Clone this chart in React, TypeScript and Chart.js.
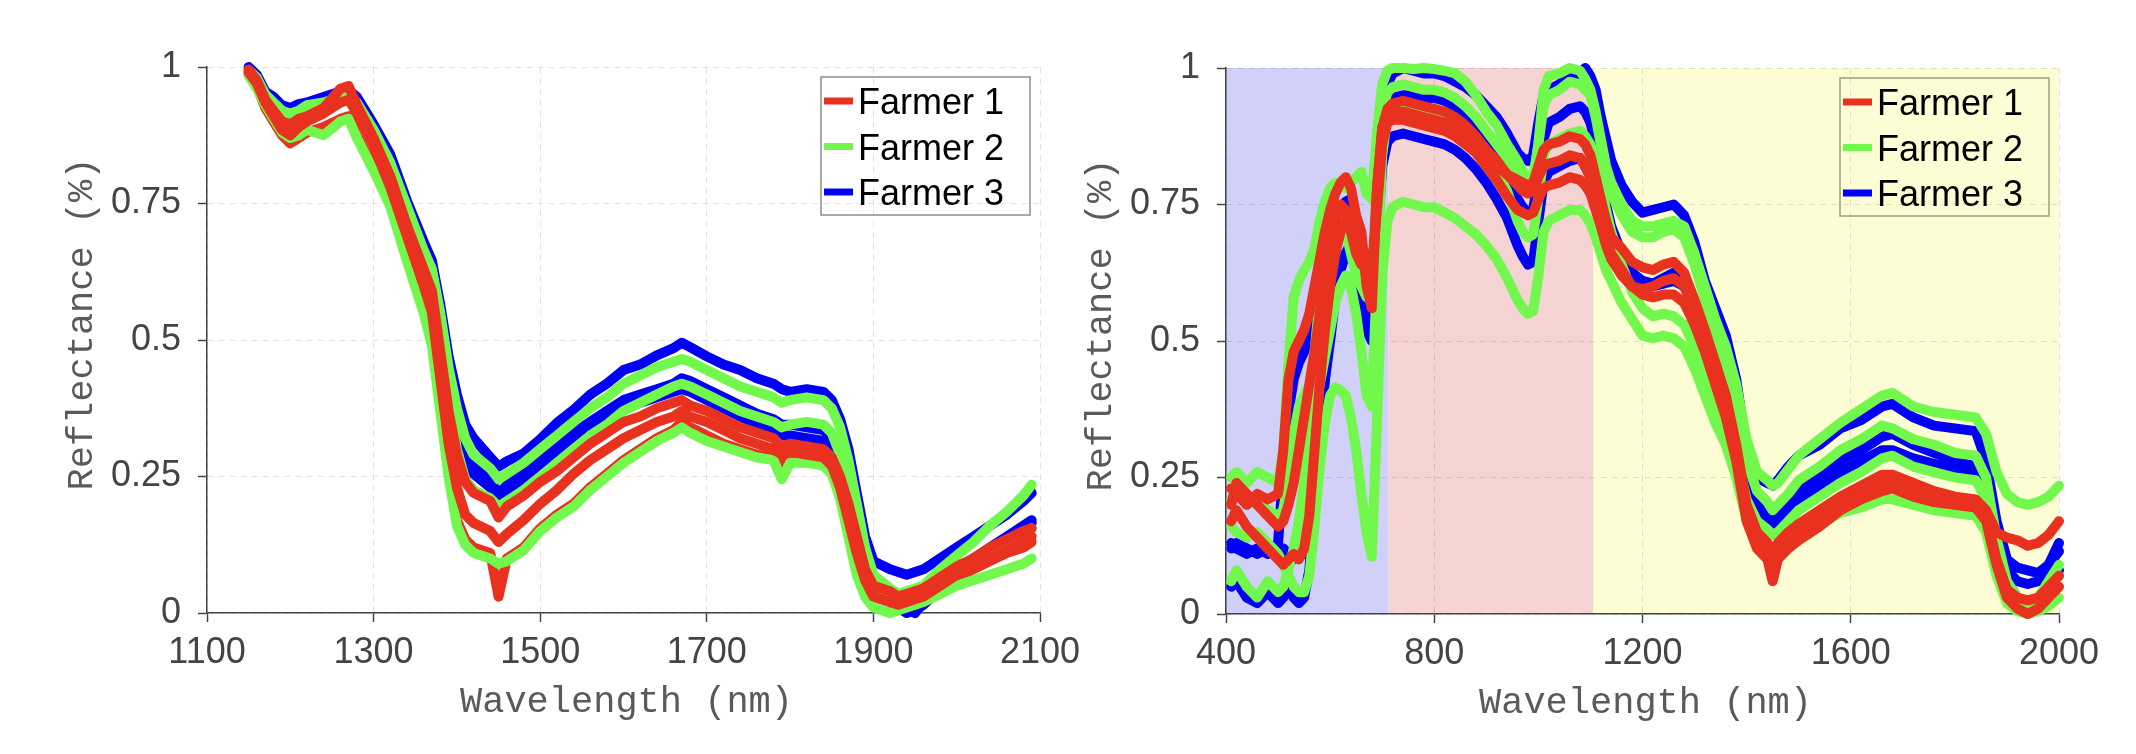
import { useEffect, useRef } from 'react';
import { Chart, registerables } from 'chart.js';

Chart.register(...registerables);

const farmerLabels = ['Farmer 1', 'Farmer 2', 'Farmer 3'];
const farmerColors = ['#e8321f', '#72f84c', '#0000f5'];
const reflectanceTicks = [0, 0.25, 0.5, 0.75, 1];
const xAxisTitle = 'Wavelength (nm)';
const yAxisTitle = 'Reflectance (%)';

// ---------- Left panel: SWIR spectra, 1100–2100 nm ----------
const swirTicks = [1100, 1300, 1500, 1700, 1900, 2100];
const swirWavelengths = [
  1150, 1160, 1170, 1180, 1190, 1200, 1210, 1220, 1240, 1260,
  1270, 1280, 1300, 1320, 1340, 1360, 1370, 1380, 1390, 1400,
  1410, 1420, 1440, 1450, 1460, 1480, 1500, 1520, 1540, 1560,
  1580, 1600, 1620, 1640, 1660, 1670, 1680, 1700, 1720, 1740,
  1760, 1780, 1790, 1800, 1820, 1840, 1850, 1860, 1870, 1880,
  1890, 1900, 1920, 1930, 1940, 1950, 1960, 1980, 2000, 2020,
  2040, 2060, 2080, 2090,
];
const swirFarmer1A = [
  0.995, 0.975, 0.94, 0.92, 0.9, 0.895, 0.905, 0.91, 0.925, 0.96,
  0.965, 0.93, 0.87, 0.8, 0.71, 0.63, 0.59, 0.48, 0.37, 0.29,
  0.24, 0.22, 0.205, 0.175, 0.195, 0.215, 0.24, 0.26, 0.285, 0.31,
  0.33, 0.35, 0.36, 0.375, 0.385, 0.39, 0.38, 0.37, 0.355, 0.34,
  0.33, 0.32, 0.305, 0.31, 0.305, 0.3, 0.285, 0.25, 0.2, 0.14,
  0.08, 0.05, 0.04, 0.03, 0.035, 0.04, 0.045, 0.065, 0.085, 0.1,
  0.12, 0.135, 0.15, 0.155,
];
const swirFarmer1B = [
  0.99, 0.97, 0.935, 0.91, 0.885, 0.875, 0.89, 0.9, 0.915, 0.935,
  0.94, 0.915, 0.855, 0.78, 0.69, 0.6, 0.55, 0.43, 0.31, 0.23,
  0.18, 0.165, 0.15, 0.13, 0.145, 0.17, 0.2, 0.225, 0.255, 0.28,
  0.3, 0.32, 0.335, 0.35, 0.36, 0.37, 0.36, 0.35, 0.335, 0.32,
  0.31, 0.3, 0.29, 0.295, 0.29, 0.285, 0.27, 0.23, 0.17, 0.11,
  0.06, 0.03, 0.02, 0.015, 0.02, 0.025, 0.03, 0.05, 0.07, 0.085,
  0.1, 0.115, 0.13, 0.14,
];
const swirFarmer1C = [
  0.985, 0.965, 0.925, 0.9, 0.875, 0.86, 0.87, 0.88, 0.89, 0.905,
  0.91, 0.875, 0.815, 0.75, 0.65, 0.56, 0.5, 0.38, 0.26, 0.17,
  0.135, 0.12, 0.11, 0.03, 0.1, 0.12, 0.155, 0.18, 0.2, 0.23,
  0.255, 0.28, 0.3, 0.32, 0.335, 0.35, 0.34, 0.325, 0.31, 0.3,
  0.29, 0.285, 0.27, 0.28, 0.28, 0.275, 0.26, 0.22, 0.16, 0.1,
  0.05, 0.03, 0.02, 0.02, 0.025, 0.03, 0.035, 0.05, 0.065, 0.08,
  0.095, 0.11, 0.12, 0.13,
];
const swirFarmer2A = [
  0.995, 0.98, 0.95, 0.935, 0.92, 0.915, 0.92, 0.93, 0.935, 0.945,
  0.95, 0.935, 0.885, 0.825, 0.745, 0.665, 0.63, 0.55, 0.45, 0.375,
  0.32, 0.29, 0.265, 0.245, 0.255, 0.275, 0.3, 0.325, 0.35, 0.375,
  0.395, 0.42, 0.435, 0.45, 0.46, 0.465, 0.46, 0.445, 0.43, 0.415,
  0.405, 0.395, 0.385, 0.39, 0.395, 0.39, 0.375, 0.34, 0.28, 0.2,
  0.12, 0.07, 0.045, 0.035, 0.04, 0.045, 0.05, 0.08, 0.105, 0.13,
  0.16, 0.185, 0.215, 0.235,
];
const swirFarmer2B = [
  0.99, 0.97, 0.94, 0.925, 0.905, 0.9, 0.905, 0.915, 0.92, 0.935,
  0.94, 0.925, 0.87, 0.8, 0.72, 0.635, 0.6, 0.5, 0.39, 0.3,
  0.245, 0.225, 0.21, 0.195, 0.205, 0.225, 0.25, 0.275, 0.3, 0.325,
  0.345, 0.37, 0.385, 0.4, 0.415, 0.42, 0.415, 0.4, 0.385, 0.37,
  0.36, 0.35, 0.34, 0.345, 0.35, 0.345, 0.33, 0.29, 0.23, 0.16,
  0.09, 0.04, 0.02, 0.015, 0.02, 0.025, 0.035, 0.055, 0.075, 0.095,
  0.115, 0.13, 0.145, 0.155,
];
const swirFarmer2C = [
  0.985, 0.96, 0.93, 0.905, 0.88, 0.87, 0.875, 0.885, 0.875, 0.9,
  0.905, 0.87, 0.81, 0.745, 0.645, 0.55, 0.49, 0.37, 0.25, 0.16,
  0.125, 0.11, 0.1, 0.09, 0.095, 0.115, 0.15, 0.175, 0.195, 0.225,
  0.25, 0.275, 0.295, 0.315, 0.33, 0.34, 0.33, 0.315, 0.305, 0.295,
  0.285, 0.28, 0.245, 0.275, 0.275, 0.27, 0.255, 0.21, 0.14, 0.07,
  0.03, 0.01, 0.0, 0.005, 0.01, 0.015, 0.02, 0.035, 0.05, 0.06,
  0.07, 0.08, 0.09, 0.1,
];
const swirFarmer3A = [
  1.0, 0.985, 0.955, 0.945, 0.93, 0.925, 0.932, 0.935, 0.945, 0.955,
  0.958, 0.945, 0.895, 0.84, 0.755, 0.68, 0.645, 0.565, 0.47, 0.4,
  0.345, 0.32, 0.285, 0.268, 0.278, 0.292, 0.318, 0.348, 0.372, 0.4,
  0.42, 0.445, 0.455, 0.472, 0.485, 0.495, 0.487, 0.47, 0.455, 0.445,
  0.43, 0.42, 0.41, 0.405, 0.41, 0.405, 0.39, 0.355, 0.3, 0.22,
  0.14, 0.095, 0.08, 0.075, 0.07, 0.075, 0.08, 0.1, 0.12, 0.14,
  0.16, 0.18, 0.205, 0.22,
];
const swirFarmer3B = [
  0.99, 0.975, 0.945, 0.93, 0.915, 0.91, 0.915, 0.92, 0.93, 0.94,
  0.94, 0.925, 0.875, 0.815, 0.735, 0.655, 0.62, 0.53, 0.43, 0.35,
  0.3, 0.275, 0.25, 0.215, 0.235, 0.26, 0.285, 0.305, 0.33, 0.35,
  0.37, 0.39, 0.4, 0.41, 0.42, 0.43, 0.425, 0.41, 0.395, 0.38,
  0.365, 0.355, 0.345, 0.345, 0.34, 0.335, 0.32, 0.29, 0.24, 0.17,
  0.1, 0.05, 0.03, 0.015, 0.01, 0.0, 0.02, 0.06, 0.08, 0.1,
  0.12, 0.14, 0.16, 0.17,
];
const swirFarmer3C = [
  0.995, 0.98, 0.95, 0.94, 0.925, 0.92, 0.925, 0.93, 0.94, 0.95,
  0.95, 0.94, 0.885, 0.83, 0.745, 0.665, 0.63, 0.54, 0.44, 0.36,
  0.29, 0.255, 0.23, 0.205, 0.22, 0.24, 0.265, 0.285, 0.31, 0.335,
  0.355, 0.375, 0.385, 0.395, 0.405, 0.41, 0.405, 0.39, 0.375, 0.36,
  0.345, 0.335, 0.325, 0.325, 0.32, 0.315, 0.3, 0.27, 0.21, 0.14,
  0.08, 0.04, 0.02, 0.01, 0.0, 0.005, 0.015, 0.045, 0.07, 0.09,
  0.11, 0.13, 0.15, 0.165,
];

// ---------- Right panel: VNIR + SWIR spectra, 400–2000 nm ----------
const fullTicks = [400, 800, 1200, 1600, 2000];
const fullWavelengths = [
  410, 420, 440, 460, 480, 500, 510, 520, 530, 540,
  550, 560, 570, 580, 590, 600, 610, 620, 630, 640,
  650, 660, 670, 680, 690, 700, 710, 720, 740, 760,
  780, 800, 820, 840, 860, 880, 900, 920, 940, 960,
  970, 980, 990, 1000, 1010, 1020, 1040, 1060, 1080, 1090,
  1100, 1110, 1120, 1130, 1140, 1160, 1180, 1200, 1220, 1240,
  1260, 1280, 1300, 1320, 1340, 1360, 1380, 1400, 1420, 1440,
  1450, 1460, 1480, 1500, 1540, 1580, 1620, 1660, 1680, 1720,
  1760, 1800, 1840, 1860, 1880, 1900, 1920, 1940, 1960, 1980, 2000,
];
const fullFarmer1A = [
  0.23, 0.22, 0.2, 0.22, 0.21, 0.22, 0.3, 0.43, 0.48, 0.5,
  0.52, 0.55, 0.6, 0.65, 0.7, 0.74, 0.77, 0.79, 0.8, 0.78,
  0.73, 0.7, 0.6, 0.56, 0.78, 0.89, 0.915, 0.92, 0.92, 0.915,
  0.91, 0.905, 0.9, 0.89, 0.875, 0.86, 0.84, 0.82, 0.805, 0.795,
  0.79, 0.785, 0.79, 0.82, 0.85, 0.86, 0.865, 0.875, 0.87, 0.86,
  0.84, 0.8, 0.76, 0.72, 0.69, 0.67, 0.645, 0.635, 0.63, 0.64,
  0.645, 0.625, 0.575, 0.52, 0.46, 0.4, 0.31, 0.2, 0.15, 0.13,
  0.11, 0.13, 0.15, 0.165, 0.19, 0.215, 0.235, 0.255, 0.255, 0.24,
  0.225, 0.215, 0.21, 0.19, 0.15, 0.14, 0.135, 0.125, 0.13, 0.145, 0.17,
];
const fullFarmer1B = [
  0.17, 0.19, 0.16, 0.14, 0.12, 0.1, 0.09, 0.1, 0.11, 0.1,
  0.12, 0.18, 0.3, 0.42, 0.52, 0.6, 0.66, 0.7, 0.72, 0.73,
  0.7, 0.66, 0.62, 0.6, 0.78, 0.89, 0.925, 0.935, 0.94, 0.935,
  0.93, 0.925, 0.92, 0.91, 0.895, 0.875, 0.85, 0.83, 0.805, 0.785,
  0.775, 0.77, 0.775, 0.8, 0.82, 0.825, 0.83, 0.84, 0.835, 0.82,
  0.8, 0.77, 0.73, 0.69, 0.66, 0.63, 0.6, 0.585, 0.58, 0.585,
  0.585, 0.57, 0.53, 0.48, 0.42, 0.36, 0.28, 0.17, 0.12, 0.1,
  0.06, 0.1, 0.12, 0.135, 0.16, 0.19, 0.21, 0.225, 0.23, 0.215,
  0.205, 0.2, 0.195, 0.17, 0.09, 0.03, 0.01, 0.0, 0.01, 0.03, 0.05,
];
const fullFarmer1C = [
  0.2, 0.24, 0.22, 0.2, 0.18, 0.16, 0.17, 0.2, 0.24, 0.3,
  0.36, 0.42, 0.48, 0.55, 0.62, 0.68, 0.72, 0.75, 0.74, 0.7,
  0.66, 0.64, 0.66, 0.63, 0.74, 0.86, 0.9, 0.905, 0.905, 0.9,
  0.895, 0.89, 0.885, 0.875, 0.86, 0.845, 0.82, 0.795, 0.765, 0.74,
  0.735, 0.73, 0.735, 0.76, 0.78, 0.785, 0.79, 0.8, 0.795, 0.785,
  0.77, 0.74, 0.71, 0.675, 0.65, 0.62, 0.6, 0.595, 0.6, 0.61,
  0.615, 0.6, 0.555, 0.5, 0.44, 0.38, 0.3, 0.19, 0.14, 0.125,
  0.12, 0.125, 0.14, 0.155, 0.18, 0.2, 0.22, 0.24, 0.245, 0.23,
  0.22, 0.21, 0.205, 0.18, 0.1, 0.045, 0.03, 0.025, 0.03, 0.05, 0.07,
];
const fullFarmer2A = [
  0.25, 0.26, 0.24, 0.26, 0.25, 0.24, 0.3, 0.46, 0.58, 0.61,
  0.63, 0.645, 0.67, 0.72, 0.755, 0.78, 0.79, 0.79, 0.78, 0.79,
  0.8, 0.81, 0.77, 0.76, 0.88, 0.97, 0.995, 1.0, 1.0, 0.998,
  1.0, 0.998, 0.995, 0.99, 0.975, 0.95, 0.92, 0.895, 0.86, 0.83,
  0.81, 0.8, 0.8, 0.86, 0.93, 0.95, 0.96, 0.975, 0.97, 0.96,
  0.95, 0.91, 0.86, 0.8, 0.77, 0.73, 0.7, 0.69, 0.69, 0.7,
  0.705, 0.69, 0.64, 0.575, 0.51, 0.46, 0.38, 0.28, 0.225, 0.205,
  0.19, 0.2, 0.22, 0.245, 0.27, 0.3, 0.32, 0.345, 0.34, 0.32,
  0.31, 0.295, 0.29, 0.25, 0.14, 0.06, 0.03, 0.02, 0.03, 0.05, 0.07,
];
const fullFarmer2B = [
  0.16, 0.15, 0.14, 0.15, 0.13, 0.11, 0.09, 0.07, 0.05, 0.04,
  0.04, 0.07, 0.16, 0.27, 0.35, 0.4, 0.415, 0.41, 0.4, 0.36,
  0.3, 0.22, 0.15, 0.105, 0.35, 0.62, 0.72, 0.745, 0.755, 0.75,
  0.745, 0.745, 0.735, 0.725, 0.71, 0.695, 0.675, 0.65, 0.615, 0.575,
  0.56, 0.55, 0.555, 0.62, 0.7, 0.72, 0.73, 0.74, 0.74, 0.73,
  0.715, 0.69, 0.66, 0.63, 0.61, 0.57, 0.54, 0.51, 0.505, 0.51,
  0.505, 0.49, 0.45, 0.4, 0.35, 0.31, 0.25, 0.17, 0.13, 0.12,
  0.115, 0.12, 0.13, 0.15, 0.165, 0.185, 0.195, 0.21, 0.21, 0.2,
  0.19, 0.185, 0.18, 0.15, 0.07, 0.02, 0.005, 0.0, 0.005, 0.015, 0.03,
];
const fullFarmer2C = [
  0.06, 0.08, 0.05, 0.03, 0.06, 0.04, 0.05, 0.08, 0.12, 0.17,
  0.24, 0.32, 0.38, 0.42, 0.47, 0.52, 0.57, 0.6, 0.62, 0.6,
  0.55, 0.48, 0.4, 0.38, 0.62, 0.84, 0.91, 0.925, 0.93, 0.925,
  0.92, 0.92, 0.915, 0.905, 0.89, 0.87, 0.84, 0.81, 0.775, 0.72,
  0.7, 0.69, 0.695, 0.76, 0.84, 0.86, 0.87, 0.88, 0.885, 0.875,
  0.86, 0.83, 0.79, 0.74, 0.7, 0.64, 0.59, 0.56, 0.545, 0.55,
  0.545, 0.53, 0.49, 0.44, 0.39, 0.35, 0.29, 0.21, 0.17, 0.155,
  0.145, 0.15, 0.17, 0.19, 0.215, 0.24, 0.26, 0.285, 0.29, 0.27,
  0.26, 0.25, 0.245, 0.21, 0.12, 0.05, 0.03, 0.02, 0.03, 0.06, 0.09,
];
const fullFarmer2D = [
  0.21, 0.22, 0.2, 0.21, 0.19, 0.18, 0.19, 0.25, 0.33, 0.38,
  0.4, 0.42, 0.48, 0.58, 0.66, 0.7, 0.72, 0.72, 0.7, 0.66,
  0.62, 0.6, 0.58, 0.6, 0.8, 0.92, 0.955, 0.965, 0.97, 0.965,
  0.96, 0.96, 0.955, 0.945, 0.93, 0.91, 0.885, 0.86, 0.835, 0.8,
  0.79, 0.78, 0.79, 0.86, 0.96, 0.985, 0.99, 1.0, 0.995, 0.98,
  0.96, 0.92, 0.87, 0.82, 0.79, 0.75, 0.72, 0.71, 0.71, 0.715,
  0.72, 0.71, 0.66, 0.6, 0.54, 0.49, 0.42, 0.32, 0.26, 0.245,
  0.235, 0.24, 0.265, 0.29, 0.32, 0.35, 0.375, 0.4, 0.405, 0.38,
  0.37, 0.365, 0.36, 0.33, 0.26, 0.22, 0.205, 0.2, 0.205, 0.215, 0.235,
];
const fullFarmer3A = [
  0.13, 0.12, 0.11, 0.12, 0.11, 0.13, 0.26, 0.37, 0.43, 0.46,
  0.48, 0.5, 0.53, 0.59, 0.64, 0.67, 0.71, 0.74, 0.755, 0.76,
  0.72, 0.66, 0.58, 0.56, 0.75, 0.88, 0.93, 0.945, 0.95, 0.95,
  0.945, 0.945, 0.94, 0.93, 0.915, 0.895, 0.865, 0.835, 0.8, 0.76,
  0.745, 0.735, 0.74, 0.8, 0.87, 0.9, 0.91, 0.925, 0.93, 0.92,
  0.9, 0.86, 0.8, 0.75, 0.71, 0.66, 0.625, 0.61, 0.605, 0.615,
  0.625, 0.61, 0.57, 0.52, 0.47, 0.42, 0.35, 0.26, 0.205, 0.185,
  0.175, 0.185, 0.2, 0.225, 0.25, 0.28, 0.3, 0.325, 0.33, 0.31,
  0.295, 0.28, 0.27, 0.23, 0.14, 0.08, 0.06, 0.055, 0.06, 0.09, 0.115,
];
const fullFarmer3B = [
  0.05, 0.06, 0.03, 0.02, 0.04, 0.02, 0.03, 0.05, 0.03, 0.02,
  0.03, 0.08, 0.2, 0.32, 0.43, 0.52, 0.6, 0.64, 0.66, 0.68,
  0.65, 0.6, 0.52, 0.5, 0.68, 0.82, 0.865, 0.875, 0.88, 0.875,
  0.87, 0.865, 0.86, 0.85, 0.835, 0.815, 0.79, 0.76, 0.725, 0.675,
  0.655, 0.64, 0.645, 0.72, 0.79, 0.81, 0.82, 0.83, 0.835, 0.82,
  0.8, 0.77, 0.73, 0.69, 0.66, 0.63, 0.61, 0.6, 0.6, 0.605,
  0.61, 0.6, 0.56, 0.51, 0.46, 0.41, 0.34, 0.25, 0.19, 0.175,
  0.165, 0.17, 0.19, 0.21, 0.235, 0.26, 0.28, 0.3, 0.3, 0.285,
  0.275, 0.265, 0.255, 0.22, 0.13, 0.06, 0.03, 0.01, 0.02, 0.05, 0.08,
];
const fullFarmer3C = [
  0.12, 0.13, 0.12, 0.11, 0.12, 0.11, 0.12, 0.11, 0.1, 0.11,
  0.11, 0.14, 0.25, 0.36, 0.43, 0.5, 0.58, 0.63, 0.66, 0.66,
  0.63, 0.58, 0.52, 0.53, 0.72, 0.9, 0.97, 0.99, 1.0, 0.995,
  0.99, 0.99, 0.985, 0.975, 0.965, 0.95, 0.93, 0.91, 0.88, 0.845,
  0.835, 0.83, 0.84, 0.9, 0.95, 0.96, 0.97, 0.985, 0.99, 1.0,
  0.985, 0.96, 0.91, 0.87, 0.83, 0.785, 0.755, 0.735, 0.74, 0.745,
  0.75, 0.73, 0.68, 0.61, 0.56, 0.51, 0.43, 0.3, 0.25, 0.24,
  0.235, 0.245, 0.27, 0.29, 0.31, 0.34, 0.355, 0.38, 0.385, 0.36,
  0.345, 0.34, 0.335, 0.28, 0.17, 0.1, 0.085, 0.08, 0.075, 0.09, 0.13,
];
// Spectral regions shaded behind the right panel (visible, red-edge/NIR, SWIR)
const regionEdges = [400, 712, 1105, 2000];
const regionColors = ['rgb(208,208,248)', 'rgb(245,211,211)', 'rgb(253,253,213)'];

type Curve = { farmer: number; values: number[] };

type PanelSpec = {
  wavelengths: number[];
  curves: Curve[];
  xMin: number;
  xMax: number;
  xTicks: number[];
  canvasLeft: number;
  canvasWidth: number;
  axisWidth: number;
  axisHeight: number;
  padRight: number;
  padTop: number;
  bands?: { edges: number[]; colors: string[] };
  legendBorder: string;
};

const swirPanel: PanelSpec = {
  wavelengths: swirWavelengths,
  curves: [
    { farmer: 0, values: swirFarmer1A },
    { farmer: 0, values: swirFarmer1B },
    { farmer: 1, values: swirFarmer2C },
    { farmer: 0, values: swirFarmer1C },
    { farmer: 1, values: swirFarmer2A },
    { farmer: 1, values: swirFarmer2B },
    { farmer: 2, values: swirFarmer3C },
    { farmer: 2, values: swirFarmer3B },
    { farmer: 2, values: swirFarmer3A },
  ],
  xMin: 1100,
  xMax: 2100,
  xTicks: swirTicks,
  canvasLeft: 0,
  canvasWidth: 1100,
  axisWidth: 207,
  axisHeight: 141,
  padRight: 60,
  padTop: 67,
  legendBorder: '#8c8c8c',
};

const fullPanel: PanelSpec = {
  wavelengths: fullWavelengths,
  curves: [
    { farmer: 0, values: fullFarmer1A },
    { farmer: 0, values: fullFarmer1B },
    { farmer: 0, values: fullFarmer1C },
    { farmer: 1, values: fullFarmer2A },
    { farmer: 1, values: fullFarmer2B },
    { farmer: 1, values: fullFarmer2C },
    { farmer: 1, values: fullFarmer2D },
    { farmer: 2, values: fullFarmer3A },
    { farmer: 2, values: fullFarmer3B },
    { farmer: 2, values: fullFarmer3C },
  ],
  xMin: 400,
  xMax: 2000,
  xTicks: fullTicks,
  canvasLeft: 1075,
  canvasWidth: 1061,
  axisWidth: 151,
  axisHeight: 140,
  padRight: 77,
  padTop: 68,
  bands: { edges: regionEdges, colors: regionColors },
  legendBorder: 'rgba(95,95,70,0.6)',
};

const tickFont = { family: '"Liberation Sans", Arial, Helvetica, sans-serif', size: 36 };
const tickColor = '#444444';

function overlayPlugin(spec: PanelSpec) {
  return {
    id: 'spectraOverlay',
    beforeDraw(chart: any) {
      if (!spec.bands) return;
      const { ctx, chartArea, scales } = chart;
      const xs = scales.x;
      ctx.save();
      for (let i = 0; i < spec.bands.colors.length; i++) {
        const x0 = xs.getPixelForValue(spec.bands.edges[i]);
        const x1 = xs.getPixelForValue(spec.bands.edges[i + 1]);
        ctx.fillStyle = spec.bands.colors[i];
        ctx.fillRect(x0, chartArea.top, x1 - x0, chartArea.bottom - chartArea.top);
      }
      ctx.restore();
    },
    afterDraw(chart: any) {
      const { ctx, chartArea: a } = chart;
      // axis titles
      ctx.save();
      ctx.fillStyle = '#5a5a5a';
      ctx.font = '37px "Liberation Mono", "Courier New", monospace';
      ctx.textAlign = 'center';
      ctx.textBaseline = 'middle';
      ctx.fillText(xAxisTitle, (a.left + a.right) / 2 + 3, a.bottom + 89);
      ctx.translate(a.left - 125, (a.top + a.bottom) / 2 - 16);
      ctx.rotate(-Math.PI / 2);
      ctx.fillText(yAxisTitle, 0, 0);
      ctx.restore();

      // legend box
      const boxW = 209;
      const boxH = 138;
      const bx = a.right - 10 - boxW;
      const by = a.top + 10;
      ctx.save();
      ctx.strokeStyle = spec.legendBorder;
      ctx.lineWidth = 1.5;
      ctx.strokeRect(bx, by, boxW, boxH);
      ctx.font = '36px "Liberation Sans", Arial, Helvetica, sans-serif';
      ctx.textAlign = 'left';
      ctx.textBaseline = 'alphabetic';
      farmerLabels.forEach((label, i) => {
        const cy = by + 24 + i * 45.5;
        ctx.strokeStyle = farmerColors[i];
        ctx.lineWidth = 7;
        ctx.lineCap = 'butt';
        ctx.beginPath();
        ctx.moveTo(bx + 3, cy);
        ctx.lineTo(bx + 32, cy);
        ctx.stroke();
        ctx.fillStyle = '#000000';
        ctx.fillText(label, bx + 37, cy + 13);
      });
      ctx.restore();
    },
  };
}

function buildChart(canvas: HTMLCanvasElement, spec: PanelSpec) {
  const datasets = spec.curves.map((c) => ({
    label: farmerLabels[c.farmer],
    data: spec.wavelengths.map((x, i) => ({ x, y: c.values[i] })),
    borderColor: farmerColors[c.farmer],
    backgroundColor: farmerColors[c.farmer],
    borderWidth: 10,
    pointRadius: 0,
    borderJoinStyle: 'round' as const,
    borderCapStyle: 'round' as const,
    tension: 0,
    fill: false,
    clip: false as const,
  }));

  const grid = {
    color: 'rgba(0,0,0,0.11)',
    lineWidth: 1,
    drawTicks: true,
    tickLength: 9,
    tickColor: '#444444',
    tickWidth: 1.5,
  };
  const border = { display: true, color: '#444444', width: 1.5, dash: [6, 5] };

  return new Chart(canvas, {
    type: 'line',
    data: { datasets },
    plugins: [overlayPlugin(spec)],
    options: {
      responsive: false,
      animation: false,
      events: [],
      layout: { padding: { left: 0, right: spec.padRight, top: spec.padTop, bottom: 0 } },
      plugins: { legend: { display: false }, tooltip: { enabled: false } },
      scales: {
        x: {
          type: 'linear',
          min: spec.xMin,
          max: spec.xMax,
          afterBuildTicks: (s: any) => {
            s.ticks = spec.xTicks.map((value) => ({ value }));
          },
          afterFit: (s: any) => {
            s.height = spec.axisHeight;
          },
          ticks: {
            callback: (v: any) => String(v),
            font: tickFont,
            color: tickColor,
            padding: 9,
            maxRotation: 0,
            autoSkip: false,
          },
          grid,
          border,
        },
        y: {
          type: 'linear',
          min: 0,
          max: 1,
          afterBuildTicks: (s: any) => {
            s.ticks = reflectanceTicks.map((value) => ({ value }));
          },
          afterFit: (s: any) => {
            s.width = spec.axisWidth;
          },
          ticks: {
            callback: (v: any) => String(v),
            font: tickFont,
            color: tickColor,
            padding: 17,
            autoSkip: false,
          },
          grid,
          border,
        },
      },
    } as any,
  });
}

function SpectraPanel({ spec }: { spec: PanelSpec }) {
  const ref = useRef<HTMLCanvasElement>(null);
  useEffect(() => {
    if (!ref.current) return;
    const chart = buildChart(ref.current, spec);
    return () => chart.destroy();
  }, [spec]);
  return (
    <canvas
      ref={ref}
      width={spec.canvasWidth}
      height={754}
      style={{
        position: 'absolute',
        left: spec.canvasLeft,
        top: 0,
        width: spec.canvasWidth,
        height: 754,
      }}
    />
  );
}

export default function App() {
  return (
    <div
      style={{
        position: 'fixed',
        left: 0,
        top: 0,
        width: 2136,
        height: 754,
        background: '#ffffff',
        overflow: 'hidden',
      }}
    >
      <SpectraPanel spec={swirPanel} />
      <SpectraPanel spec={fullPanel} />
    </div>
  );
}
